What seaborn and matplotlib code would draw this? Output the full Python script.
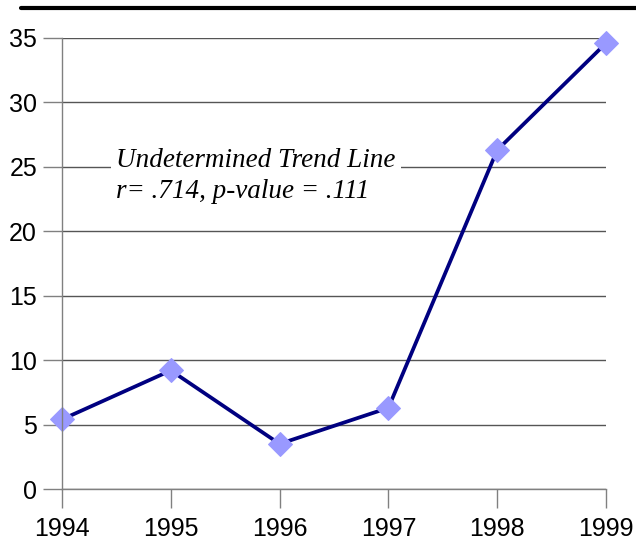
import matplotlib
matplotlib.use("Agg")
import matplotlib.pyplot as plt
import seaborn as sns
import pandas as pd
from matplotlib.lines import Line2D

years = [1994, 1995, 1996, 1997, 1998, 1999]
values = [5.4, 9.2, 3.5, 6.3, 26.3, 34.6]
y_ticks = [0, 5, 10, 15, 20, 25, 30, 35]
note_lines = ["Undetermined Trend Line", "r= .714, p-value = .111"]

df = pd.DataFrame({"year": years, "value": values})

sns.set_style("white")
plt.rcParams['font.family'] = ['Liberation Sans', 'DejaVu Sans']

fig = plt.figure(figsize=(6.36, 5.41), dpi=100)
ax = fig.add_axes([0.0975, 0.0961, 0.8553, 0.8337])

sns.lineplot(data=df, x="year", y="value", ax=ax, color="#000080", linewidth=2.7,
             marker="D", markersize=12, markerfacecolor="#9999ff", markeredgecolor="#9999ff")
for ln in ax.lines:
    ln.set_clip_on(False)

ax.set_xlim(1994, 1999)
ax.set_ylim(0, 35)
ax.set_xticks(years)
ax.set_yticks(y_ticks)
ax.tick_params(axis="both", labelsize=18, length=14, width=1, color="#808080",
               labelcolor="black", direction="out", left=True, bottom=True)
ax.tick_params(axis="y", pad=4)
ax.tick_params(axis="x", pad=6)
ax.set_xlabel("")
ax.set_ylabel("")
ax.yaxis.grid(True, color="#555555", linewidth=1)
ax.set_axisbelow(True)
for side in ["top", "right"]:
    ax.spines[side].set_visible(False)
for side in ["left", "bottom"]:
    ax.spines[side].set_color("#808080")
    ax.spines[side].set_linewidth(1)

ax.text(1994.5, 24.3, note_lines[0] + "\n" + note_lines[1], fontsize=19.5, style="italic",
        family=["Liberation Serif", "DejaVu Serif"], va="center", ha="left", linespacing=1.3,
        color="black", bbox=dict(facecolor="white", edgecolor="none", pad=4))

fig.add_artist(Line2D([0.033, 1.0], [0.985, 0.985], color="black", linewidth=3))

fig.savefig("out.png", dpi=100)
